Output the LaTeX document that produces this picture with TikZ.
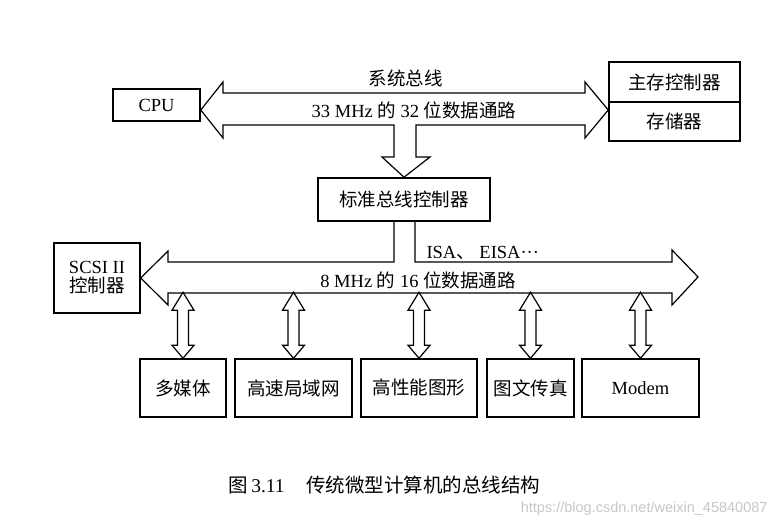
\documentclass[tikz,border=0pt]{standalone}
\usepackage{fontspec}
\setmainfont{Liberation Serif}
\setsansfont{Liberation Sans}
\newfontfamily\cjk{Noto Sans CJK SC}
\tikzset{
  box/.style={draw, line width=1.5pt, inner sep=0pt, align=center},
  bus/.style={draw, line width=1.2pt, line join=miter},
  portarrow/.style={draw, line width=1.2pt}
}
\begin{document}
\begin{tikzpicture}[x=1pt, y=1pt, font=\fontsize{18.5}{21}\selectfont]
  \useasboundingbox (0,0) rectangle (778,526);
  % top level
  \node[box, minimum width=87pt, minimum height=32pt] (cpu) at (156.5,421) {CPU};
  \node[box, minimum width=131pt, minimum height=40pt] (memctl) at (674.5,444) {\cjk 主存控制器};
  \node[box, minimum width=131pt, minimum height=39pt] (mem) at (674.5,404.5) {\cjk 存储器};
  \node[box, minimum width=172pt, minimum height=43pt] (busctl) at (404,326.5) {\cjk 标准总线控制器};
  \node[box, minimum width=86pt, minimum height=70pt] (scsi) at (97,248) {SCSI II\\[-2pt]{\cjk 控制器}};
  \coordinate (systipl) at (cpu.east |- 0,416);
  \coordinate (systipr) at (mem.west |- 0,416);
  % system bus with the branch down to the controller
  \draw[bus] (systipl) -- (223,444) -- (223,433) -- (585,433) -- (585,444) -- (systipr)
    -- (585,388) -- (585,401) -- (416,401) -- (416,369) -- (430,369) -- (busctl.north)
    -- (382,369) -- (394,369) -- (394,401) -- (223,401) -- (223,388) -- cycle;
  \node (sysbus) at (405.5,447.5) {\cjk 系统总线};
  \node (sysdata) at (414,416) {33 MHz {\cjk 的} 32 {\cjk 位数据通路}};
  % expansion bus
  \draw[bus] (394,305) -- (394,264) -- (168,264) -- (168,275) -- (scsi.east) -- (168,221)
    -- (168,233) -- (672,233) -- (672,221) -- (698,249) -- (672,276) -- (672,264)
    -- (415,264) -- (415,305);
  \node[anchor=west] (isa) at (423,273) {ISA{\cjk 、} EISA···};
  \node (expdata) at (418,246) {8 MHz {\cjk 的} 16 {\cjk 位数据通路}};
  % adapters
  \foreach \name/\x/\w/\txt in {
      mm/183/86/{\cjk 多媒体},
      lan/293.5/117/{\cjk 高速局域网},
      gfx/419/116/{\cjk 高性能图形},
      fax/530.5/87/{\cjk 图文传真},
      modem/640.5/117/{Modem}} {
    \node[box, minimum width=\w pt, minimum height=58pt] (\name) at (\x,138) {\txt};
    \draw[portarrow] (\name.north) -- ++(-11,13) -- ++(5.5,0) -- ++(0,35) -- ++(-5.5,0)
      -- ++(11,18) -- ++(11,-18) -- ++(-5.5,0) -- ++(0,-35) -- ++(5.5,0) -- cycle;
  }
  % caption
  \node[anchor=west, font=\fontsize{19.5}{22}\selectfont] (caption) at (225,41)
    {{\cjk 图}\,3.11\hspace{1.1em}{\cjk 传统微型计算机的总线结构}};
  \node[anchor=east, text=black!22, font=\sffamily\fontsize{14.5}{16}\selectfont] (mark) at (771,17)
    {https://blog.csdn.net/weixin\_45840087};
\end{tikzpicture}
\end{document}
